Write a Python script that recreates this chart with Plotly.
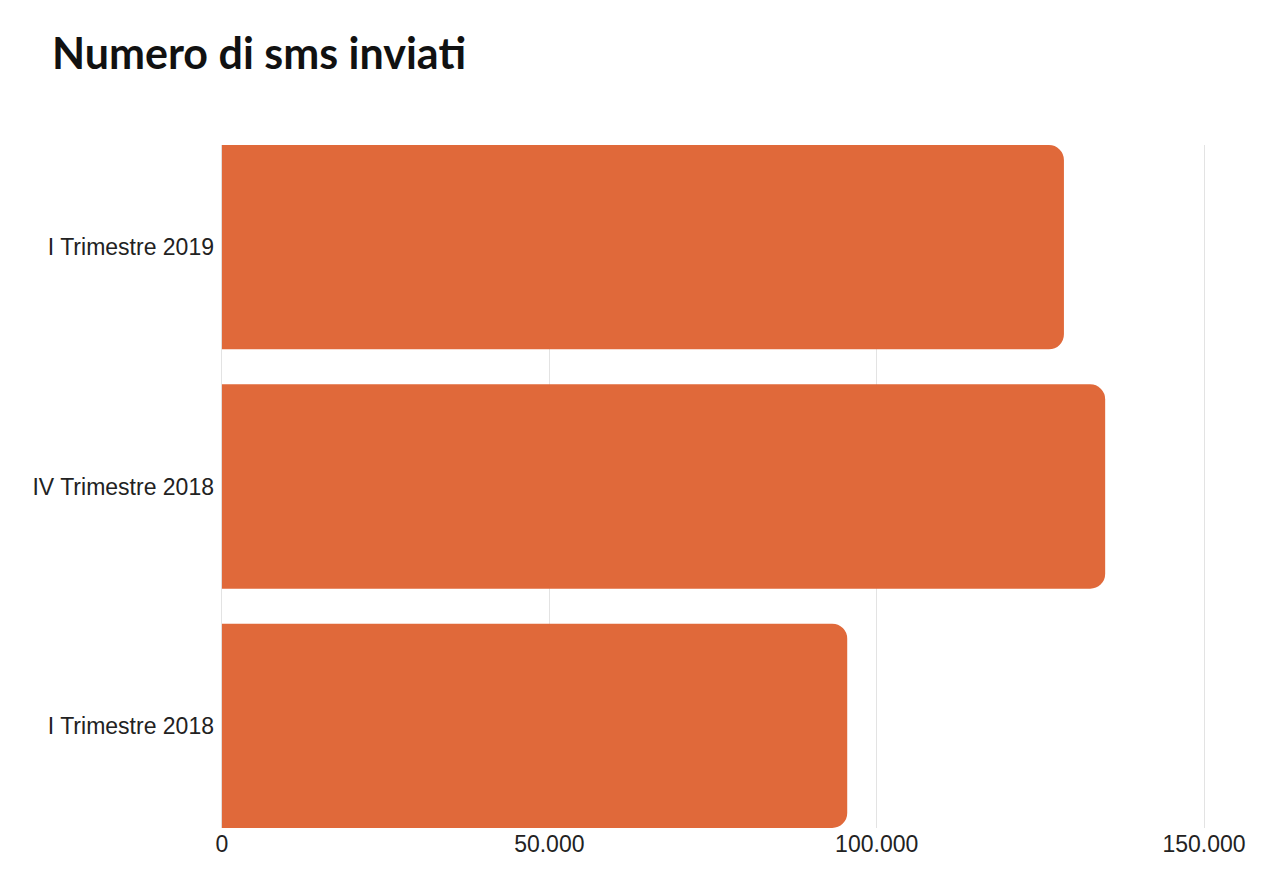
import plotly.graph_objects as go

categories = ["I Trimestre 2018", "IV Trimestre 2018", "I Trimestre 2019"]
values = [95500, 134900, 128600]
tick_values = [0, 50000, 100000, 150000]
tick_labels = ["0", "50.000", "100.000", "150.000"]

TICKFONT = dict(family="Liberation Sans, Arial, sans-serif", size=23, color="#222222")

fig = go.Figure(go.Bar(
    y=categories, x=values, orientation="h",
    marker=dict(color="#E0693A", line=dict(width=0)),
    hoverinfo="skip",
))

# page body has an 8px margin; figure coordinates compensate for it
fig.update_layout(
    width=1280, height=890,
    paper_bgcolor="white", plot_bgcolor="white",
    margin=dict(l=212, r=82, t=137, b=70),
    bargap=0.146,
    barcornerradius=15,
    showlegend=False,
    title=dict(text="<b>Numero di sms inviati</b>", x=44/1280, xref="container", xanchor="left",
               y=1-46/890, yref="container", yanchor="middle",
               font=dict(family="Lato", size=43, color="#111111")),
    font=TICKFONT,
)
fig.update_xaxes(range=[-300, 150300], tickvals=tick_values, ticktext=tick_labels,
                 showgrid=True, gridcolor="#e3e3e3", gridwidth=1, zeroline=False,
                 showline=False, ticks="", tickfont=TICKFONT)
fig.update_yaxes(range=[-0.427, 2.427], showgrid=False, zeroline=False, showline=False,
                 ticks="", ticklabelstandoff=5, tickfont=TICKFONT)

fig.write_html("out.html")
